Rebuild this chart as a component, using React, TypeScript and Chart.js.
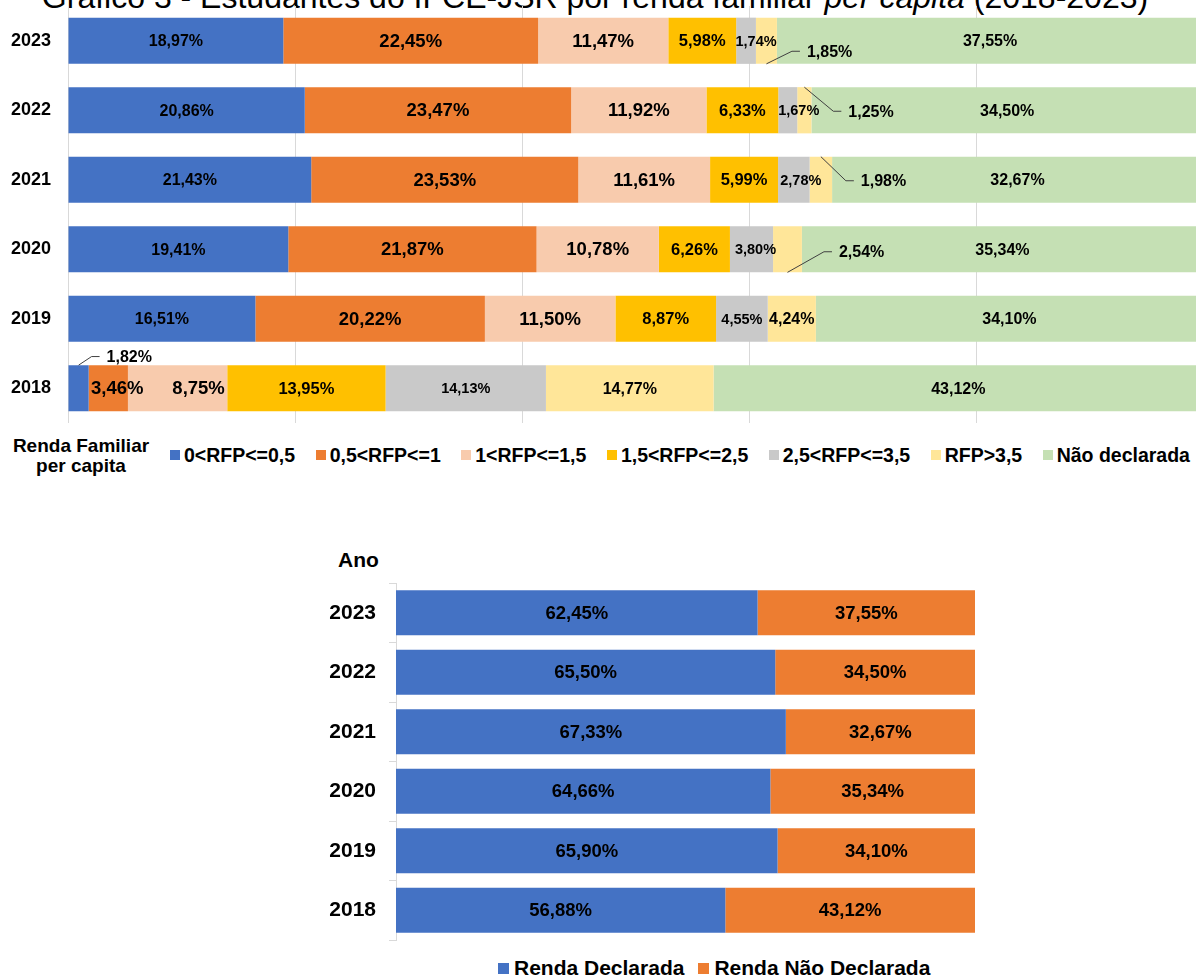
import React, { useEffect, useRef } from 'react';
import { Chart, registerables } from 'chart.js';

Chart.register(...registerables);

const FONT = '"Liberation Sans", Arial, Helvetica, sans-serif';

// ---------- Data: chart 1 (renda familiar per capita) ----------
const years = ['2023', '2022', '2021', '2020', '2019', '2018'];
const rfp0to05 = [18.97, 20.86, 21.43, 19.41, 16.51, 1.82];
const rfp05to1 = [22.45, 23.47, 23.53, 21.87, 20.22, 3.46];
const rfp1to15 = [11.47, 11.92, 11.61, 10.78, 11.5, 8.75];
const rfp15to25 = [5.98, 6.33, 5.99, 6.26, 8.87, 13.95];
const rfp25to35 = [1.74, 1.67, 2.78, 3.8, 4.55, 14.13];
const rfpAbove35 = [1.85, 1.25, 1.98, 2.54, 4.24, 14.77];
const naoDeclarada = [37.55, 34.5, 32.67, 35.34, 34.1, 43.12];
const rfpSeriesNames = ['0<RFP<=0,5', '0,5<RFP<=1', '1<RFP<=1,5', '1,5<RFP<=2,5', '2,5<RFP<=3,5', 'RFP>3,5', 'Não declarada'];
const rfpColors = ['#4472C4', '#ED7D31', '#F8CBAD', '#FFC000', '#C9C9C9', '#FFE699', '#C5E0B4'];

// ---------- Data: chart 2 (renda declarada x não declarada) ----------
const rendaDeclarada = [62.45, 65.5, 67.33, 64.66, 65.9, 56.88];
const rendaNaoDeclarada = [37.55, 34.5, 32.67, 35.34, 34.1, 43.12];
const rendaSeriesNames = ['Renda Declarada', 'Renda Não Declarada'];
const rendaColors = ['#4472C4', '#ED7D31'];

// ---------- Label styling (not data) ----------
const rfpLabelSizes = [16, 18.5, 18.5, 16.5, 14.5, 16, 16];
const rfpLabelShifts = [
  { ds: 4, idx: 0, dx: 10 },
  { ds: 4, idx: 1, dx: 11 },
  { ds: 4, idx: 2, dx: 7 },
  { ds: 4, idx: 3, dx: 4 },
  { ds: 1, idx: 5, dx: 9 },
  { ds: 2, idx: 5, dx: 21 },
];
const rfpCallouts = [
  { ds: 5, idx: 0, dx: 40.5, dy: 10.5, edge: 'bottom', size: 16 },
  { ds: 5, idx: 1, dx: 44, dy: 1, edge: 'top', size: 16 },
  { ds: 5, idx: 2, dx: 40, dy: 1, edge: 'top', size: 16 },
  { ds: 5, idx: 3, dx: 51.5, dy: 2.5, edge: 'bottom', size: 16 },
  { ds: 0, idx: 5, dx: 28, dy: -31.7, edge: 'top', size: 16 },
];

const fmt = (v: number) => v.toFixed(2).replace('.', ',') + '%';

function makeLabelPlugin(sizes: number[], shifts: any[], callouts: any[]) {
  return {
    id: 'barLabels',
    afterDatasetsDraw(chart: any) {
      const ctx = chart.ctx;
      ctx.save();
      chart.data.datasets.forEach((ds: any, di: number) => {
        const meta = chart.getDatasetMeta(di);
        meta.data.forEach((el: any, i: number) => {
          const v = ds.data[i] as number;
          const { x, y, base, height } = el.getProps(['x', 'y', 'base', 'height'], true);
          const cx = (x + base) / 2;
          ctx.fillStyle = '#000';
          ctx.textBaseline = 'middle';
          const c = callouts.find((k) => k.ds === di && k.idx === i);
          if (c) {
            const lx = cx + c.dx;
            const ly = y + c.dy;
            const ay = c.edge === 'top' ? y - height / 2 : y + height / 2;
            ctx.strokeStyle = '#404040';
            ctx.lineWidth = 1;
            ctx.beginPath();
            ctx.moveTo(cx, ay);
            ctx.lineTo(lx - 15, ly);
            ctx.lineTo(lx - 7, ly);
            ctx.stroke();
            ctx.font = `bold ${c.size}px ${FONT}`;
            ctx.textAlign = 'left';
            ctx.fillText(fmt(v), lx, ly + 1);
          } else {
            const s = shifts.find((k) => k.ds === di && k.idx === i);
            ctx.font = `bold ${sizes[di]}px ${FONT}`;
            ctx.textAlign = 'center';
            ctx.fillText(fmt(v), cx + (s ? s.dx : 0), y + 1);
          }
        });
      });
      ctx.restore();
    },
  };
}

function RfpChart() {
  const ref = useRef<HTMLCanvasElement | null>(null);
  useEffect(() => {
    if (!ref.current) return;
    const series = [rfp0to05, rfp05to1, rfp1to15, rfp15to25, rfp25to35, rfpAbove35, naoDeclarada];
    const chart = new Chart(ref.current, {
      type: 'bar',
      data: {
        labels: years,
        datasets: series.map((d, i) => ({
          label: rfpSeriesNames[i],
          data: d,
          backgroundColor: rfpColors[i],
          borderWidth: 0,
          barPercentage: 0.665,
          categoryPercentage: 1,
        })),
      },
      options: {
        indexAxis: 'y',
        responsive: false,
        animation: false,
        layout: { padding: { left: 0, right: 12, top: 6, bottom: 7 } },
        plugins: { legend: { display: false }, tooltip: { enabled: false }, title: { display: false } },
        scales: {
          x: {
            stacked: true,
            min: 0,
            max: 100,
            ticks: { display: false, stepSize: 20 },
            grid: { color: '#D9D9D9', lineWidth: 1, drawTicks: false },
            border: { display: false },
            afterFit: (s: any) => {
              s.height = 0;
              s.paddingLeft = 0;
              s.paddingRight = 0;
            },
          },
          y: {
            stacked: true,
            grid: { display: false, drawTicks: false },
            border: { display: false },
            ticks: { color: '#000', padding: 17, font: { family: FONT, size: 18, weight: 'bold' } },
            afterFit: (s: any) => {
              s.width = 68;
              s.paddingTop = 0;
              s.paddingBottom = 0;
            },
          },
        },
      } as any,
      plugins: [makeLabelPlugin(rfpLabelSizes, rfpLabelShifts, rfpCallouts)],
    });
    return () => chart.destroy();
  }, []);
  return <canvas ref={ref} width={1215} height={430} style={{ position: 'absolute', left: 0, top: 0 }} />;
}

function RendaChart() {
  const ref = useRef<HTMLCanvasElement | null>(null);
  useEffect(() => {
    if (!ref.current) return;
    const series = [rendaDeclarada, rendaNaoDeclarada];
    const chart = new Chart(ref.current, {
      type: 'bar',
      data: {
        labels: years,
        datasets: series.map((d, i) => ({
          label: rendaSeriesNames[i],
          data: d,
          backgroundColor: rendaColors[i],
          borderWidth: 0,
          barPercentage: 0.76,
          categoryPercentage: 1,
        })),
      },
      options: {
        indexAxis: 'y',
        responsive: false,
        animation: false,
        layout: { padding: { left: 0, right: 25, top: 43, bottom: 10 } },
        plugins: { legend: { display: false }, tooltip: { enabled: false } },
        scales: {
          x: { stacked: true, min: 0, max: 100, display: false },
          y: {
            stacked: true,
            grid: { display: true, drawOnChartArea: false, drawTicks: true, tickLength: 7, color: '#D9D9D9', offset: true },
            border: { display: true, color: '#D9D9D9' },
            ticks: { color: '#000', padding: 13, font: { family: FONT, size: 21, weight: 'bold' } },
            afterFit: (s: any) => {
              s.width = 396;
              s.paddingTop = 0;
              s.paddingBottom = 0;
            },
          },
        },
      } as any,
      plugins: [makeLabelPlugin([18.5, 18.5], [], [])],
    });
    return () => chart.destroy();
  }, []);
  return <canvas ref={ref} width={1000} height={410} style={{ position: 'absolute', left: 0, top: 540 }} />;
}

const legendItem = (name: string, color: string, box: number, gapBox: number, size: number, gapAfter: number) => (
  <div key={name} style={{ display: 'flex', alignItems: 'center', marginRight: gapAfter }}>
    <div style={{ width: box, height: box, background: color, marginRight: gapBox }} />
    <span style={{ fontFamily: FONT, fontWeight: 'bold', fontSize: size, color: '#000', whiteSpace: 'nowrap' }}>{name}</span>
  </div>
);

export default function App() {
  return (
    <div
      style={{
        position: 'fixed',
        left: 0,
        top: 0,
        width: 1196,
        height: 978,
        overflow: 'hidden',
        background: '#fff',
      }}
    >
      <div
        style={{
          position: 'absolute',
          left: 0,
          top: -19,
          width: 1190,
          textAlign: 'center',
          fontFamily: FONT,
          fontSize: 32,
          lineHeight: '32px',
          color: '#000',
          whiteSpace: 'nowrap',
        }}
      >
        Gráfico 3 - Estudantes do IFCE-JSR por renda familiar <i>per capita</i> (2018-2023)
      </div>
      <RfpChart />
      <div
        style={{
          position: 'absolute',
          left: 0,
          top: 436,
          width: 162,
          textAlign: 'center',
          fontFamily: FONT,
          fontWeight: 'bold',
          fontSize: 19,
          lineHeight: '20px',
          color: '#000',
        }}
      >
        Renda Familiar
        <br />
        per capita
      </div>
      <div style={{ position: 'absolute', left: 170, top: 444, height: 22, display: 'flex', alignItems: 'center' }}>
        {rfpSeriesNames.map((n, i) => legendItem(n, rfpColors[i], 10, 4, 19.5, 20.5))}
      </div>

      <div
        style={{
          position: 'absolute',
          left: 338,
          top: 549,
          fontFamily: FONT,
          fontWeight: 'bold',
          fontSize: 21,
          lineHeight: '22px',
          color: '#000',
        }}
      >
        Ano
      </div>
      <RendaChart />
      <div style={{ position: 'absolute', left: 498, top: 957, height: 22, display: 'flex', alignItems: 'center' }}>
        {rendaSeriesNames.map((n, i) => legendItem(n, rendaColors[i], 11, 5, 21, 14))}
      </div>
    </div>
  );
}
